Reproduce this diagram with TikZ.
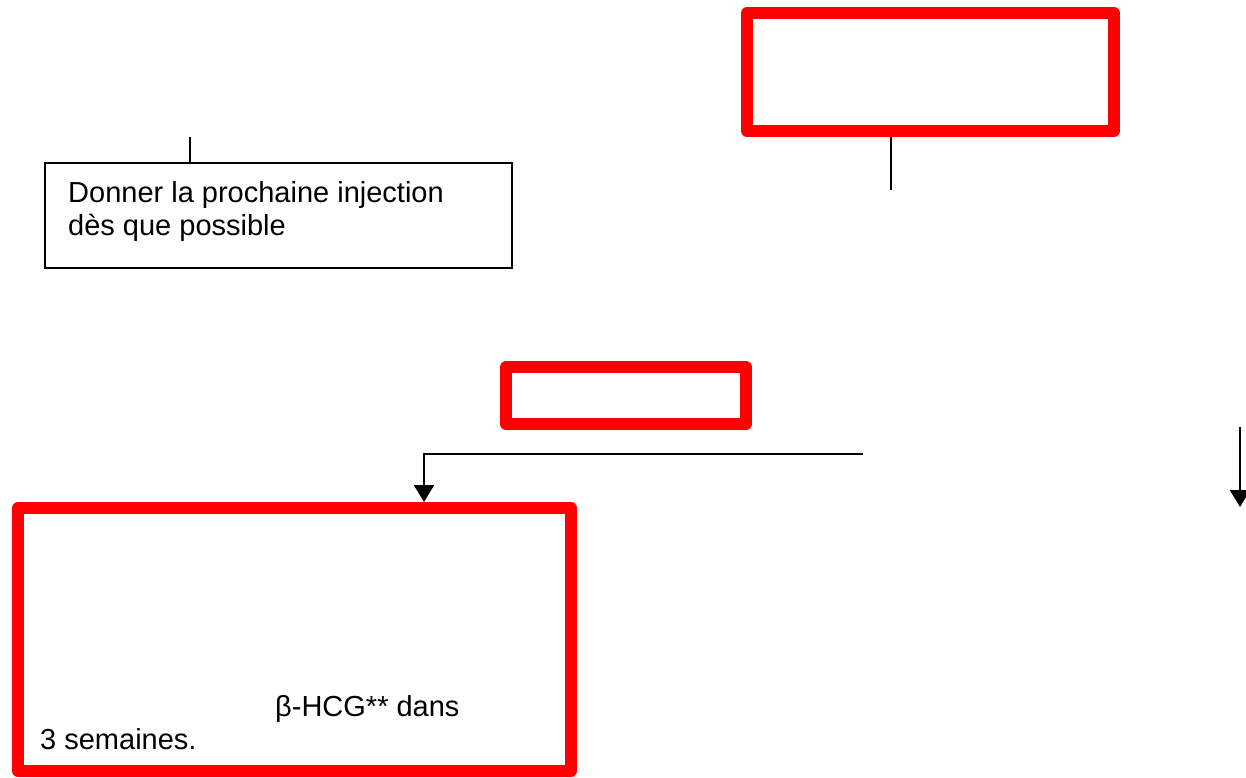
\documentclass[tikz,border=0pt]{standalone}
\usepackage{fontspec}
\setmainfont{Liberation Sans}
\usetikzlibrary{arrows.meta}
\begin{document}
\begin{tikzpicture}[x=1pt,y=-1pt,
  redbox/.style={draw=red,fill=white,line width=12pt,line join=round,inner sep=0pt,rectangle},
  blackbox/.style={draw=black,fill=white,line width=2pt,inner sep=0pt,rectangle},
  conn/.style={draw=black,line width=2.2pt},
  arr/.style={conn,-{Triangle[width=20pt,length=17pt]}},
  txt/.style={font=\fontsize{29}{33}\selectfont,inner sep=0pt,align=left}]
\useasboundingbox (0,0) rectangle (1246,777);
\node[redbox,minimum width=367pt,minimum height=118pt] (top) at (930.5,72) {};
\node[blackbox,minimum width=467pt,minimum height=105pt] (inj) at (278.5,215.5) {};
\node[txt,anchor=base west] (injtxt) at (68,235) {Donner la prochaine injection\\dès que possible};
\node[redbox,minimum width=240pt,minimum height=57pt] (mid) at (626,395.5) {};
\node[redbox,minimum width=553pt,minimum height=263pt] (big) at (294.5,639.5) {};
\node[txt,anchor=base west] (bigtxt1) at (275,716) {β-HCG** dans};
\node[txt,anchor=base west] (bigtxt2) at (40,749) {3 semaines.};
\coordinate (c1) at (190,137);
\coordinate (c2) at (891,190);
\coordinate (c3) at (863,454);
\coordinate (c4) at (424,454);
\coordinate (c5) at (1240,427);
\coordinate (c6) at (1240,507);
\draw[conn] (c1) -- (c1 |- inj.north);
\draw[conn] (c2 |- top.south) -- (c2);
\draw[arr] (c3) -- (c4) -- (c4 |- big.north);
\draw[arr] (c5) -- (c6);
\end{tikzpicture}
\end{document}
